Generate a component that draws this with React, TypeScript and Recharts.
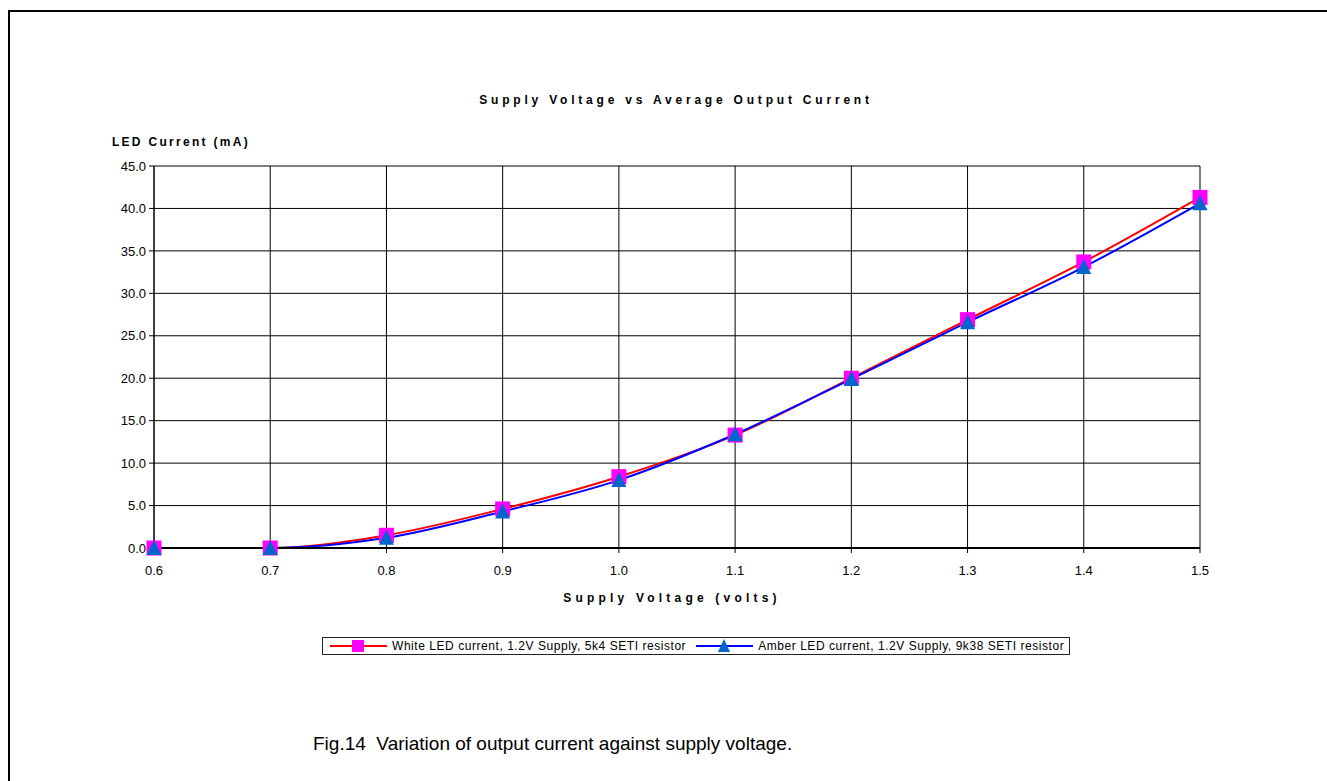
import React from 'react';
import { LineChart, Line, XAxis, YAxis, CartesianGrid } from 'recharts';

// Supply voltage (V) on the x axis
const voltages = [0.6, 0.7, 0.8, 0.9, 1.0, 1.1, 1.2, 1.3, 1.4, 1.5];
// LED current (mA)
const whiteLed = [0, 0, 1.5, 4.6, 8.4, 13.3, 20.0, 26.9, 33.7, 41.3];
const amberLed = [0, 0, 1.2, 4.3, 8.0, 13.4, 19.9, 26.6, 33.1, 40.6];
const yTicks = [0, 5, 10, 15, 20, 25, 30, 35, 40, 45];

const seriesLabels = [
  'White LED current, 1.2V Supply, 5k4 SETI resistor',
  'Amber LED current, 1.2V Supply, 9k38 SETI resistor',
];

const data = voltages.map((v, i) => ({ v, white: whiteLed[i], amber: amberLed[i] }));

const FONT = '"Liberation Sans", Arial, sans-serif';

const SquareDot = (props: any) => {
  const { cx, cy, index } = props;
  if (cx == null || cy == null) return null;
  return <rect key={`sq-${index}`} x={cx - 7.5} y={cy - 7.5} width={15} height={15} fill="#FF00FF" />;
};

const TriangleDot = (props: any) => {
  const { cx, cy, index } = props;
  if (cx == null || cy == null) return null;
  return (
    <polygon
      key={`tr-${index}`}
      points={`${cx},${cy - 8} ${cx - 7.5},${cy + 7} ${cx + 7.5},${cy + 7}`}
      fill="#0066CC"
    />
  );
};

const LegendItem = ({ color, marker, label }: { color: string; marker: 'square' | 'triangle'; label: string }) => (
  <div style={{ display: 'flex', alignItems: 'center', marginRight: 10, flexShrink: 0, whiteSpace: 'nowrap' }}>
    <svg width={57} height={16} style={{ marginRight: 5, flexShrink: 0 }}>
      <line x1={0} y1={8} x2={57} y2={8} stroke={color} strokeWidth={2} />
      {marker === 'square' ? (
        <rect x={22} y={2} width={12} height={12} fill="#FF00FF" />
      ) : (
        <polygon points="28,1 22,14 34,14" fill="#0066CC" />
      )}
    </svg>
    <span>{label}</span>
  </div>
);

const boldLabel: React.CSSProperties = {
  position: 'absolute',
  transform: 'translate(-50%, -50%)',
  whiteSpace: 'nowrap',
  fontFamily: FONT,
  fontWeight: 'bold',
  fontSize: 12,
  color: '#000',
};

export default function App() {
  return (
    <div style={{ position: 'relative', width: 1327, height: 781, background: '#fff', overflow: 'hidden' }}>
      <style>{`body{margin:0;overflow:hidden}`}</style>
      <div
        style={{
          position: 'absolute',
          left: 8,
          top: 10,
          width: 1340,
          height: 800,
          borderTop: '2px solid #000',
          borderLeft: '2px solid #000',
        }}
      />
      <div style={{ ...boldLabel, left: 676, top: 100, letterSpacing: 3.8 }}>
        Supply Voltage vs Average Output Current
      </div>
      <div style={{ ...boldLabel, left: 181, top: 142, letterSpacing: 2.3 }}>LED Current (mA)</div>
      <div style={{ ...boldLabel, left: 672, top: 598, letterSpacing: 4.2 }}>Supply Voltage (volts)</div>

      <div style={{ position: 'absolute', left: 0, top: 0 }}>
        <LineChart
          width={1327}
          height={781}
          data={data}
          margin={{ top: 166, right: 127, bottom: 203, left: 94 }}
        >
          <CartesianGrid stroke="#000" strokeWidth={1} />
          <XAxis
            type="number"
            dataKey="v"
            domain={[0.6, 1.5]}
            ticks={voltages}
            tickFormatter={(v: number) => v.toFixed(1)}
            height={30}
            tickSize={5}
            tickMargin={13}
            stroke="#000"
            tick={{ fill: '#000', fontSize: 13, fontFamily: FONT }}
            axisLine={{ stroke: '#000', strokeWidth: 2 }}
            interval={0}
          />
          <YAxis
            type="number"
            domain={[0, 45]}
            ticks={yTicks}
            tickFormatter={(v: number) => v.toFixed(1)}
            width={60}
            tickSize={5}
            tickMargin={3}
            stroke="#000"
            tick={{ fill: '#000', fontSize: 13, fontFamily: FONT }}
            interval={0}
          />
          <Line
            type="monotone"
            dataKey="white"
            stroke="#FF0000"
            strokeWidth={2}
            dot={SquareDot}
            activeDot={false}
            isAnimationActive={false}
          />
          <Line
            type="monotone"
            dataKey="amber"
            stroke="#0000FF"
            strokeWidth={2}
            dot={TriangleDot}
            activeDot={false}
            isAnimationActive={false}
          />
        </LineChart>
      </div>

      <div
        style={{
          position: 'absolute',
          left: 322,
          top: 637,
          width: 748,
          height: 18,
          border: '1px solid #222',
          display: 'flex',
          alignItems: 'center',
          fontFamily: FONT,
          fontSize: 12,
          letterSpacing: 0.55,
          color: '#000',
          boxSizing: 'border-box',
          paddingLeft: 7,
          overflow: 'hidden',
        }}
      >
        <LegendItem color="#FF0000" marker="square" label={seriesLabels[0]} />
        <LegendItem color="#0000FF" marker="triangle" label={seriesLabels[1]} />
      </div>

      <div
        style={{
          position: 'absolute',
          left: 313,
          top: 733,
          whiteSpace: 'nowrap',
          fontFamily: FONT,
          fontSize: 19,
          color: '#000',
        }}
      >
        Fig.14&nbsp;&nbsp;Variation of output current against supply voltage.
      </div>
    </div>
  );
}
